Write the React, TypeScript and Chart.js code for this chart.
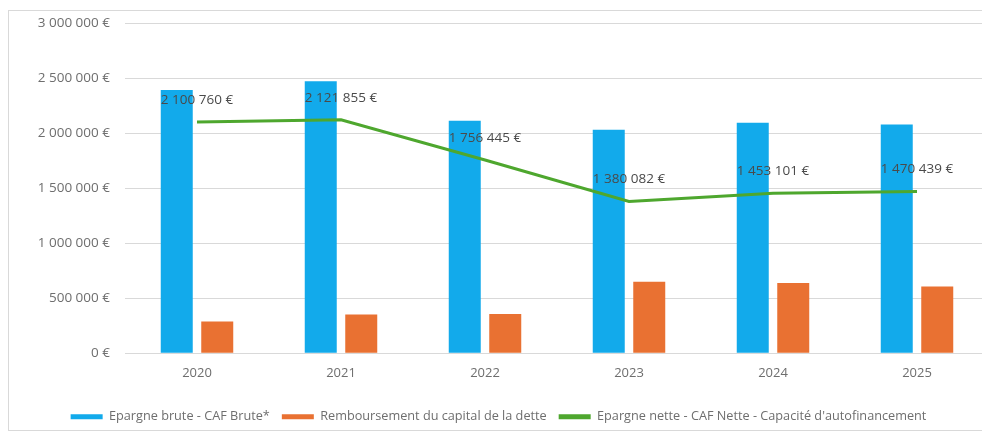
import React, { useEffect, useRef } from 'react';
import { Chart, registerables } from 'chart.js';

Chart.register(...registerables);

const years = ['2020', '2021', '2022', '2023', '2024', '2025'];
const epargneBrute = [2392000, 2472000, 2112000, 2032000, 2094000, 2078000];
const remboursement = [290000, 352000, 358000, 650000, 638000, 606000];
const epargneNette = [2100760, 2121855, 1756445, 1380082, 1453101, 1470439];
const seriesNames = [
  'Epargne brute - CAF Brute*',
  'Remboursement du capital de la dette',
  'Epargne nette - CAF Nette - Capacité d\'autofinancement',
];
const yMin = 0;
const yMax = 3000000;
const yStep = 500000;

const BLUE = '#12AAEB';
const ORANGE = '#E97132';
const GREEN = '#4EA72E';
const FONT = '"Open Sans", sans-serif';
const TICK_COLOR = '#6E6E6E';

const fmt = (v: number) =>
  Math.round(v).toString().replace(/\B(?=(\d{3})+(?!\d))/g, ' ') + ' €';

const labelPlugin = {
  id: 'lineLabels',
  afterDatasetsDraw(chart: any) {
    const meta = chart.getDatasetMeta(2);
    const ctx = chart.ctx;
    ctx.save();
    ctx.font = `13.5px ${FONT}`;
    ctx.fillStyle = '#4A4A4A';
    ctx.textAlign = 'center';
    ctx.textBaseline = 'middle';
    meta.data.forEach((pt: any, i: number) => {
      ctx.fillText(fmt(epargneNette[i]), pt.x, pt.y - 22);
    });
    ctx.restore();
  },
};

export default function App() {
  const ref = useRef<HTMLCanvasElement | null>(null);

  useEffect(() => {
    if (!ref.current) return;
    const chart = new Chart(ref.current, {
      type: 'bar',
      data: {
        labels: years,
        datasets: [
          {
            type: 'bar',
            label: seriesNames[0],
            data: epargneBrute,
            backgroundColor: BLUE,
            borderWidth: 0,
            order: 1,
            categoryPercentage: 0.5625,
            barPercentage: 0.79,
          },
          {
            type: 'bar',
            label: seriesNames[1],
            data: remboursement,
            backgroundColor: ORANGE,
            borderWidth: 0,
            order: 1,
            categoryPercentage: 0.5625,
            barPercentage: 0.79,
          },
          {
            type: 'line',
            label: seriesNames[2],
            data: epargneNette,
            borderColor: GREEN,
            backgroundColor: GREEN,
            borderWidth: 3,
            pointRadius: 0,
            tension: 0,
            order: 0,
          },
        ] as any,
      },
      options: {
        responsive: false,
        animation: false,
        devicePixelRatio: 1,
        layout: { padding: { left: 8, right: 11, top: 20, bottom: 0 } },
        plugins: {
          tooltip: { enabled: false },
          legend: {
            position: 'bottom',
            labels: {
              boxWidth: 32,
              boxHeight: 5,
              padding: 12,
              color: TICK_COLOR,
              font: { family: FONT, size: 12.7 },
              sort: (a: any, b: any) => a.datasetIndex - b.datasetIndex,
              generateLabels: (c: any) =>
                (Chart.defaults.plugins.legend.labels as any)
                  .generateLabels(c)
                  .map((l: any) => ({ ...l, lineWidth: 0 })),
            },
          },
        },
        scales: {
          x: {
            grid: { display: false, drawTicks: false },
            border: { display: false },
            ticks: {
              color: TICK_COLOR,
              font: { family: FONT, size: 13 },
              padding: 12,
            },
            afterFit: (axis: any) => {
              axis.height = 45;
            },
          },
          y: {
            min: yMin,
            max: yMax,
            border: { display: false },
            grid: { color: '#D9D9D9', drawTicks: false },
            ticks: {
              stepSize: yStep,
              color: TICK_COLOR,
              font: { family: FONT, size: 13.5 },
              padding: 15,
              callback: (v: any) => fmt(Number(v)),
            },
            afterFit: (axis: any) => {
              axis.width = 117;
            },
          },
        },
      } as any,
      plugins: [labelPlugin],
    });
    return () => chart.destroy();
  }, []);

  return (
    <div
      style={{
        position: 'fixed',
        left: 0,
        top: 0,
        width: 982,
        height: 433,
        overflow: 'hidden',
        background: '#fff',
      }}
    >
      <div
        style={{
          position: 'absolute',
          left: 8,
          top: 10,
          width: 1000,
          height: 419,
          border: '1px solid #D9D9D9',
        }}
      />
      <canvas
        ref={ref}
        width={1000}
        height={433}
        style={{ position: 'absolute', left: 0, top: 0, width: 1000, height: 433 }}
      />
    </div>
  );
}
